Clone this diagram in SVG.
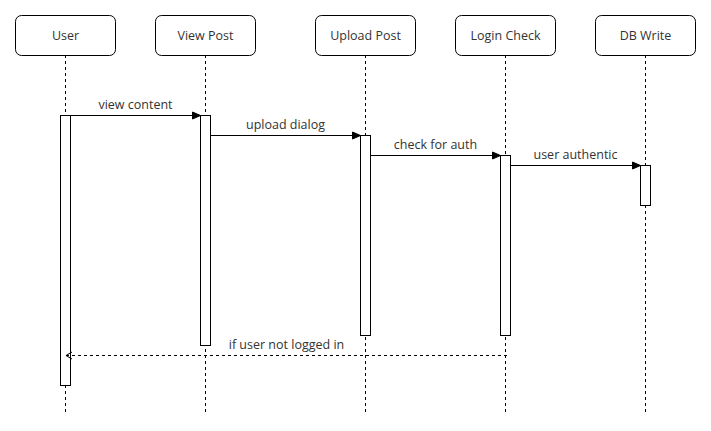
<svg xmlns="http://www.w3.org/2000/svg" width="711" height="431" viewBox="0 0 711 431">
<style>
.box{fill:#fff;stroke:#000;stroke-width:1}
.life{stroke:#000;stroke-width:1;stroke-dasharray:3,3;fill:none}
.act{fill:#fff;stroke:#000;stroke-width:1}
.msg{stroke:#000;stroke-width:1;fill:none}
.ret{stroke:#000;stroke-width:1;fill:none;stroke-dasharray:3,3}
text{font-family:"Open Sans","Noto Sans",sans-serif;font-size:12.5px;fill:#333;text-anchor:middle}
</style>
<defs>
<marker id="fill" markerWidth="10" markerHeight="10" refX="9" refY="5" orient="auto" markerUnits="userSpaceOnUse" viewBox="0 0 10 10">
<path d="M1,1.5 L9,5 L1,8.5 Z" fill="#000" stroke="#000"/>
</marker>
<marker id="open" markerWidth="10" markerHeight="10" refX="9" refY="5" orient="auto" markerUnits="userSpaceOnUse" viewBox="0 0 10 10">
<path d="M3,1.5 L9,5 L3,8.5" fill="none" stroke="#000"/>
</marker>
</defs>
<g id="lifelines">
<line class="life" x1="65.5" y1="55" x2="65.5" y2="412"/>
<line class="life" x1="205.5" y1="55" x2="205.5" y2="412"/>
<line class="life" x1="365.5" y1="55" x2="365.5" y2="412"/>
<line class="life" x1="505.5" y1="55" x2="505.5" y2="412"/>
<line class="life" x1="645.5" y1="55" x2="645.5" y2="412"/>
</g>
<g id="user"><rect class="box" x="15.5" y="15.5" width="100" height="40" rx="6"/><text x="65.5" y="40">User</text></g>
<g id="viewpost"><rect class="box" x="155.5" y="15.5" width="100" height="40" rx="6"/><text x="205.5" y="40">View Post</text></g>
<g id="uploadpost"><rect class="box" x="315.5" y="15.5" width="100" height="40" rx="6"/><text x="365.5" y="40">Upload Post</text></g>
<g id="logincheck"><rect class="box" x="455.5" y="15.5" width="100" height="40" rx="6"/><text x="505.5" y="40">Login Check</text></g>
<g id="dbwrite"><rect class="box" x="595.5" y="15.5" width="100" height="40" rx="6"/><text x="645.5" y="40">DB Write</text></g>
<g id="activations">
<rect class="act" x="60.5" y="115.5" width="10" height="270"/>
<rect class="act" x="200.5" y="115.5" width="10" height="230"/>
<rect class="act" x="360.5" y="135.5" width="10" height="200"/>
<rect class="act" x="500.5" y="155.5" width="10" height="180"/>
<rect class="act" x="640.5" y="165.5" width="10" height="40"/>
</g>
<g id="connectors">
<line class="msg" x1="70.5" y1="115.5" x2="200.5" y2="115.5" marker-end="url(#fill)"/>
<text x="135.5" y="109">view content</text>
<line class="msg" x1="210.5" y1="135.5" x2="360.5" y2="135.5" marker-end="url(#fill)"/>
<text x="285.5" y="129">upload dialog</text>
<line class="msg" x1="370.5" y1="155.5" x2="500.5" y2="155.5" marker-end="url(#fill)"/>
<text x="435.5" y="149">check for auth</text>
<line class="msg" x1="510.5" y1="165.5" x2="640.5" y2="165.5" marker-end="url(#fill)"/>
<text x="575.5" y="159">user authentic</text>
<line class="ret" x1="507" y1="355.5" x2="66" y2="355.5" marker-end="url(#open)"/>
<text x="286.5" y="349">if user not logged in</text>
</g>
</svg>
